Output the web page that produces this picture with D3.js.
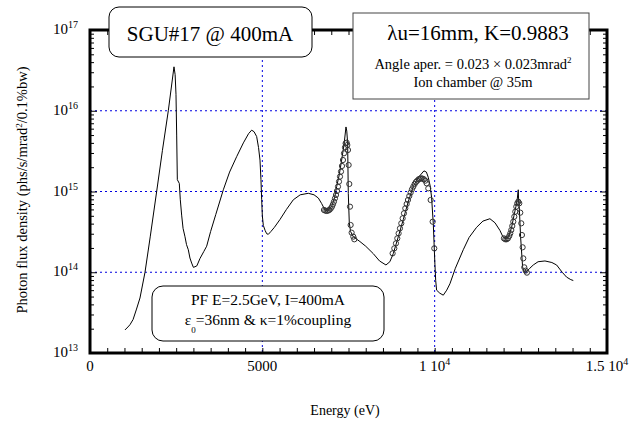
<!DOCTYPE html>
<html>
<head>
<meta charset="utf-8">
<script src="https://cdn.jsdelivr.net/npm/d3@7"></script>
<style>
  body { margin: 0; background: #fff; }
  svg text { font-family: "Liberation Serif", "DejaVu Serif", serif; fill: #000; }
</style>
</head>
<body>
<div id="chart"></div>
<script>
// calculated spectrum (line)
var calcEnergy = [1015, 1100, 1160, 1250, 1350, 1450, 1596, 1750, 1934, 2100, 2272, 2437, 2470, 2495, 2515, 2534, 2591, 2620, 2659, 2700,
  2756, 2800, 2852, 2900, 2949, 3000, 3046, 3100, 3191, 3300, 3385, 3500, 3650, 3868, 4050, 4255, 4450, 4600, 4690, 4760,
  4835, 4890, 4932, 4960, 4981, 5000, 5029, 5080, 5126, 5174, 5250, 5350, 5512, 5700, 5899, 6100, 6334, 6500, 6625, 6720,
  6818, 6900, 7011, 7100, 7156, 7230, 7301, 7370, 7427, 7450, 7475, 7494, 7523, 7560, 7639, 7832, 8000, 8219, 8400, 8587,
  8700, 8799, 8950, 9089, 9230, 9379, 9530, 9689, 9760, 9814, 9870, 9910, 9960, 10007, 10030, 10056, 10150, 10250, 10350, 10443,
  10600, 10830, 11000, 11216, 11400, 11603, 11750, 11893, 11980, 12067, 12150, 12232, 12300, 12357, 12400, 12425, 12440, 12454, 12493, 12551,
  12600, 12667, 12760, 12861, 13000, 13200, 13400, 13538, 13700, 13828, 13950, 14022];
var calcFlux = [1.93e13, 2.1e13, 2.24e13, 2.6e13, 3.5e13, 4.8e13, 1.0e14, 2.8e14, 1.0e15, 3.2e15, 1.0e16, 3.5e16, 2.8e16, 1.6e16, 5e15, 1.4e15, 1.26e15, 7.9e14, 5.1e14, 3.5e14,
  2.75e14, 2.2e14, 1.9e14, 1.5e14, 1.3e14, 1.15e14, 1.17e14, 1.2e14, 1.48e14, 1.8e14, 2.1e14, 3.2e14, 5.2e14, 1.05e15, 1.74e15, 2.7e15, 4.0e15, 5.2e15, 5.75e15, 5.5e15,
  4.8e15, 3.5e15, 2.45e15, 1.4e15, 7.9e14, 5e14, 3.8e14, 3.3e14, 3.0e14, 2.95e14, 3.2e14, 3.6e14, 4.5e14, 6.0e14, 7.9e14, 9.1e14, 9.5e14, 9.1e14, 8.3e14, 7.1e14,
  5.9e14, 5.75e14, 6.5e14, 8.5e14, 1.15e15, 1.6e15, 2.45e15, 3.8e15, 6.3e15, 5.6e15, 4.0e15, 9.5e14, 4.1e14, 3.2e14, 2.75e14, 2.4e14, 2.1e14, 1.7e14, 1.38e14, 1.23e14,
  1.35e14, 1.7e14, 2.8e14, 4.5e14, 7.4e14, 1.15e15, 1.5e15, 1.8e15, 1.74e15, 1.5e15, 1.17e15, 8.5e14, 4e14, 1.26e14, 7.9e13, 6.0e13, 5.5e13, 5.2e13, 6.0e13, 7.2e13,
  1.12e14, 1.9e14, 2.7e14, 3.6e14, 4.3e14, 4.6e14, 4.1e14, 3.3e14, 2.75e14, 2.6e14, 2.8e14, 3.6e14, 5e14, 6.5e14, 8.3e14, 1.05e15, 7.1e14, 6.5e14, 2.75e14, 1.17e14,
  1.0e14, 1.02e14, 1.12e14, 1.23e14, 1.35e14, 1.38e14, 1.32e14, 1.23e14, 1.0e14, 8.7e13, 8.1e13, 7.9e13];

// measured points (open circles), log10 of flux
var measEnergy = [6788, 6827, 6866, 6904, 6943, 6982, 7020, 7049, 7078, 7107, 7137, 7166, 7195, 7224, 7253, 7282, 7311, 7340, 7369, 7398,
  7417, 7446, 7465, 7485, 7504, 7523, 7543, 7562, 7591, 7639, 7668,
  8780, 8829, 8877, 8916, 8954, 8993, 9032, 9071, 9109, 9148, 9187, 9225, 9264, 9303, 9341, 9380, 9419, 9457, 9496, 9535,
  9573, 9612, 9651, 9689, 9728, 9767, 9815, 9883, 9941, 9989,
  12010, 12049, 12088, 12126, 12165, 12194, 12223, 12252, 12281, 12310, 12339, 12368, 12397, 12426, 12455, 12484, 12513, 12532, 12552, 12571,
  12600, 12639, 12677];
var measLogFlux = [14.771, 14.763, 14.759, 14.763, 14.771, 14.787, 14.812, 14.841, 14.874, 14.915, 14.957, 15.006, 15.060, 15.122, 15.184, 15.246, 15.316, 15.390, 15.473, 15.547,
  15.597, 15.605, 15.576, 15.514, 15.328, 15.093, 14.812, 14.585, 14.490, 14.441, 14.408,
  14.234, 14.296, 14.358, 14.420, 14.482, 14.544, 14.606, 14.668, 14.730, 14.792, 14.845, 14.895, 14.944, 14.986, 15.027, 15.060, 15.093, 15.118, 15.134, 15.151,
  15.159, 15.163, 15.159, 15.151, 15.134, 15.101, 15.039, 14.895, 14.626, 14.296,
  14.420, 14.408, 14.408, 14.420, 14.449, 14.482, 14.523, 14.573, 14.626, 14.688, 14.750, 14.812, 14.854, 14.874, 14.854, 14.738, 14.606, 14.461, 14.309, 14.172,
  14.061, 14.020, 13.995];

var xTicks = [0, 5000, 10000, 15000];
var xTickLabels = [["0", ""], ["5000", ""], ["1 10", "4"], ["1.5 10", "4"]];
var yTicks = [1e13, 1e14, 1e15, 1e16, 1e17];
var yTickExp = ["13", "14", "15", "16", "17"];
var xGrid = [5000, 10000];
var yGrid = [1e14, 1e15, 1e16];

var svgWidth = 640, svgHeight = 423;
var margin = { top: 30, right: 33, bottom: 70, left: 90 };
var width = svgWidth - margin.left - margin.right;
var height = svgHeight - margin.top - margin.bottom;

var svg = d3.select("#chart").append("svg")
  .attr("width", svgWidth)
  .attr("height", svgHeight)
  .attr("font-family", "'Liberation Serif', 'DejaVu Serif', serif");

var x = d3.scaleLinear().domain([0, 15000]).range([margin.left, margin.left + width]);
var y = d3.scaleLog().domain([1e13, 1e17]).range([margin.top + height, margin.top]);

// grid lines
svg.selectAll(".xgrid").data(xGrid).enter().append("line")
  .attr("x1", d => x(d)).attr("x2", d => x(d))
  .attr("y1", y(1e17)).attr("y2", y(1e13))
  .attr("stroke", "#0000e0").attr("stroke-width", 1).attr("stroke-dasharray", "2,3");
svg.selectAll(".ygrid").data(yGrid).enter().append("line")
  .attr("x1", x(0)).attr("x2", x(15000))
  .attr("y1", d => y(d)).attr("y2", d => y(d))
  .attr("stroke", "#0000e0").attr("stroke-width", 1).attr("stroke-dasharray", "2,3");

// ticks (inward) via d3 axes
var xMinor = d3.range(0, 15001, 500);
var yMinor = [];
[1e13, 1e14, 1e15, 1e16].forEach(function(dec) {
  for (var k = 2; k <= 9; k++) yMinor.push(dec * k);
});

function tickAxis(axis, tr) {
  var g = svg.append("g").attr("transform", tr).call(axis);
  g.selectAll("text").remove();
  g.select(".domain").remove();
  g.selectAll("line").attr("stroke", "#000").attr("stroke-width", 1);
  return g;
}
tickAxis(d3.axisBottom(x).tickValues(xMinor).tickSize(-5), `translate(0,${y(1e13)})`);
tickAxis(d3.axisTop(x).tickValues(xMinor).tickSize(-5), `translate(0,${y(1e17)})`);
tickAxis(d3.axisLeft(y).tickValues(yMinor).tickSize(-4), `translate(${x(0)},0)`);
tickAxis(d3.axisRight(y).tickValues(yMinor).tickSize(-4), `translate(${x(15000)},0)`);
tickAxis(d3.axisLeft(y).tickValues(yTicks).tickSize(-7), `translate(${x(0)},0)`);
tickAxis(d3.axisRight(y).tickValues(yTicks).tickSize(-7), `translate(${x(15000)},0)`);

// calculated curve
var line = d3.line()
  .x(function(d, i) { return x(calcEnergy[i]); })
  .y(function(d) { return y(d); });
svg.append("path")
  .datum(calcFlux)
  .attr("d", line)
  .attr("fill", "none")
  .attr("stroke", "#000")
  .attr("stroke-width", 1);

// measured circles
svg.selectAll(".meas").data(measLogFlux).enter().append("circle")
  .attr("cx", function(d, i) { return x(measEnergy[i]); })
  .attr("cy", d => y(Math.pow(10, d)))
  .attr("r", 2.6)
  .attr("fill", "none")
  .attr("stroke", "#333")
  .attr("stroke-width", 1);

// frame
svg.append("rect")
  .attr("x", x(0)).attr("y", y(1e17))
  .attr("width", x(15000) - x(0)).attr("height", y(1e13) - y(1e17))
  .attr("fill", "none").attr("stroke", "#000").attr("stroke-width", 3);

// tick labels
xTicks.forEach(function(t, i) {
  var tx = svg.append("text")
    .attr("x", x(t)).attr("y", 371)
    .attr("text-anchor", "middle")
    .attr("font-size", 15)
    .text(xTickLabels[i][0]);
  if (xTickLabels[i][1]) {
    tx.append("tspan").attr("dy", -6).attr("font-size", 10).text(xTickLabels[i][1]);
  }
});
yTicks.forEach(function(t, i) {
  var ty = svg.append("text")
    .attr("x", 78).attr("y", y(t) + 4)
    .attr("text-anchor", "end")
    .attr("font-size", 15)
    .text("10");
  ty.append("tspan").attr("dy", -6).attr("font-size", 10).text(yTickExp[i]);
});

// axis titles
svg.append("text")
  .attr("x", 345).attr("y", 415)
  .attr("text-anchor", "middle")
  .attr("font-size", 14)
  .text("Energy (eV)");
var yl = svg.append("text")
  .attr("transform", "translate(27,190) rotate(-90)")
  .attr("text-anchor", "middle")
  .attr("font-size", 14.5)
  .text("Photon flux density (phs/s/mrad");
yl.append("tspan").attr("dy", -5).attr("font-size", 9).text("2");
yl.append("tspan").attr("dy", 5).text("/0.1%bw)");

// title box
svg.append("rect")
  .attr("x", 109).attr("y", 7).attr("width", 203).attr("height", 50)
  .attr("rx", 10).attr("ry", 10)
  .attr("fill", "#fff").attr("stroke", "#000").attr("stroke-width", 1);
svg.append("text")
  .attr("x", 210).attr("y", 41)
  .attr("text-anchor", "middle")
  .attr("font-size", 21)
  .text("SGU#17 @ 400mA");

// parameter box
svg.append("rect")
  .attr("x", 353).attr("y", 13).attr("width", 236).attr("height", 86)
  .attr("fill", "#fff").attr("stroke", "#444").attr("stroke-width", 1);
svg.append("text")
  .attr("x", 478).attr("y", 40)
  .attr("text-anchor", "middle")
  .attr("font-size", 21)
  .text("λu=16mm, K=0.9883");
var ang = svg.append("text")
  .attr("x", 473).attr("y", 69)
  .attr("text-anchor", "middle")
  .attr("font-size", 14.5)
  .text("Angle aper. = 0.023 × 0.023mrad");
ang.append("tspan").attr("dy", -6).attr("font-size", 9).text("2");
svg.append("text")
  .attr("x", 473).attr("y", 87)
  .attr("text-anchor", "middle")
  .attr("font-size", 14.5)
  .text("Ion chamber @ 35m");

// beam box
svg.append("rect")
  .attr("x", 152).attr("y", 286).attr("width", 232).attr("height", 55)
  .attr("rx", 11).attr("ry", 11)
  .attr("fill", "#fff").attr("stroke", "#000").attr("stroke-width", 1);
svg.append("text")
  .attr("x", 268).attr("y", 305)
  .attr("text-anchor", "middle")
  .attr("font-size", 15.5)
  .text("PF E=2.5GeV, I=400mA");
var em = svg.append("text")
  .attr("x", 268).attr("y", 325)
  .attr("text-anchor", "middle")
  .attr("font-size", 15.5);
em.append("tspan").text("ε");
em.append("tspan").attr("dy", 8).attr("font-size", 9).text("0");
em.append("tspan").attr("dy", -8).text("=36nm & κ=1%coupling");
</script>
</body>
</html>
